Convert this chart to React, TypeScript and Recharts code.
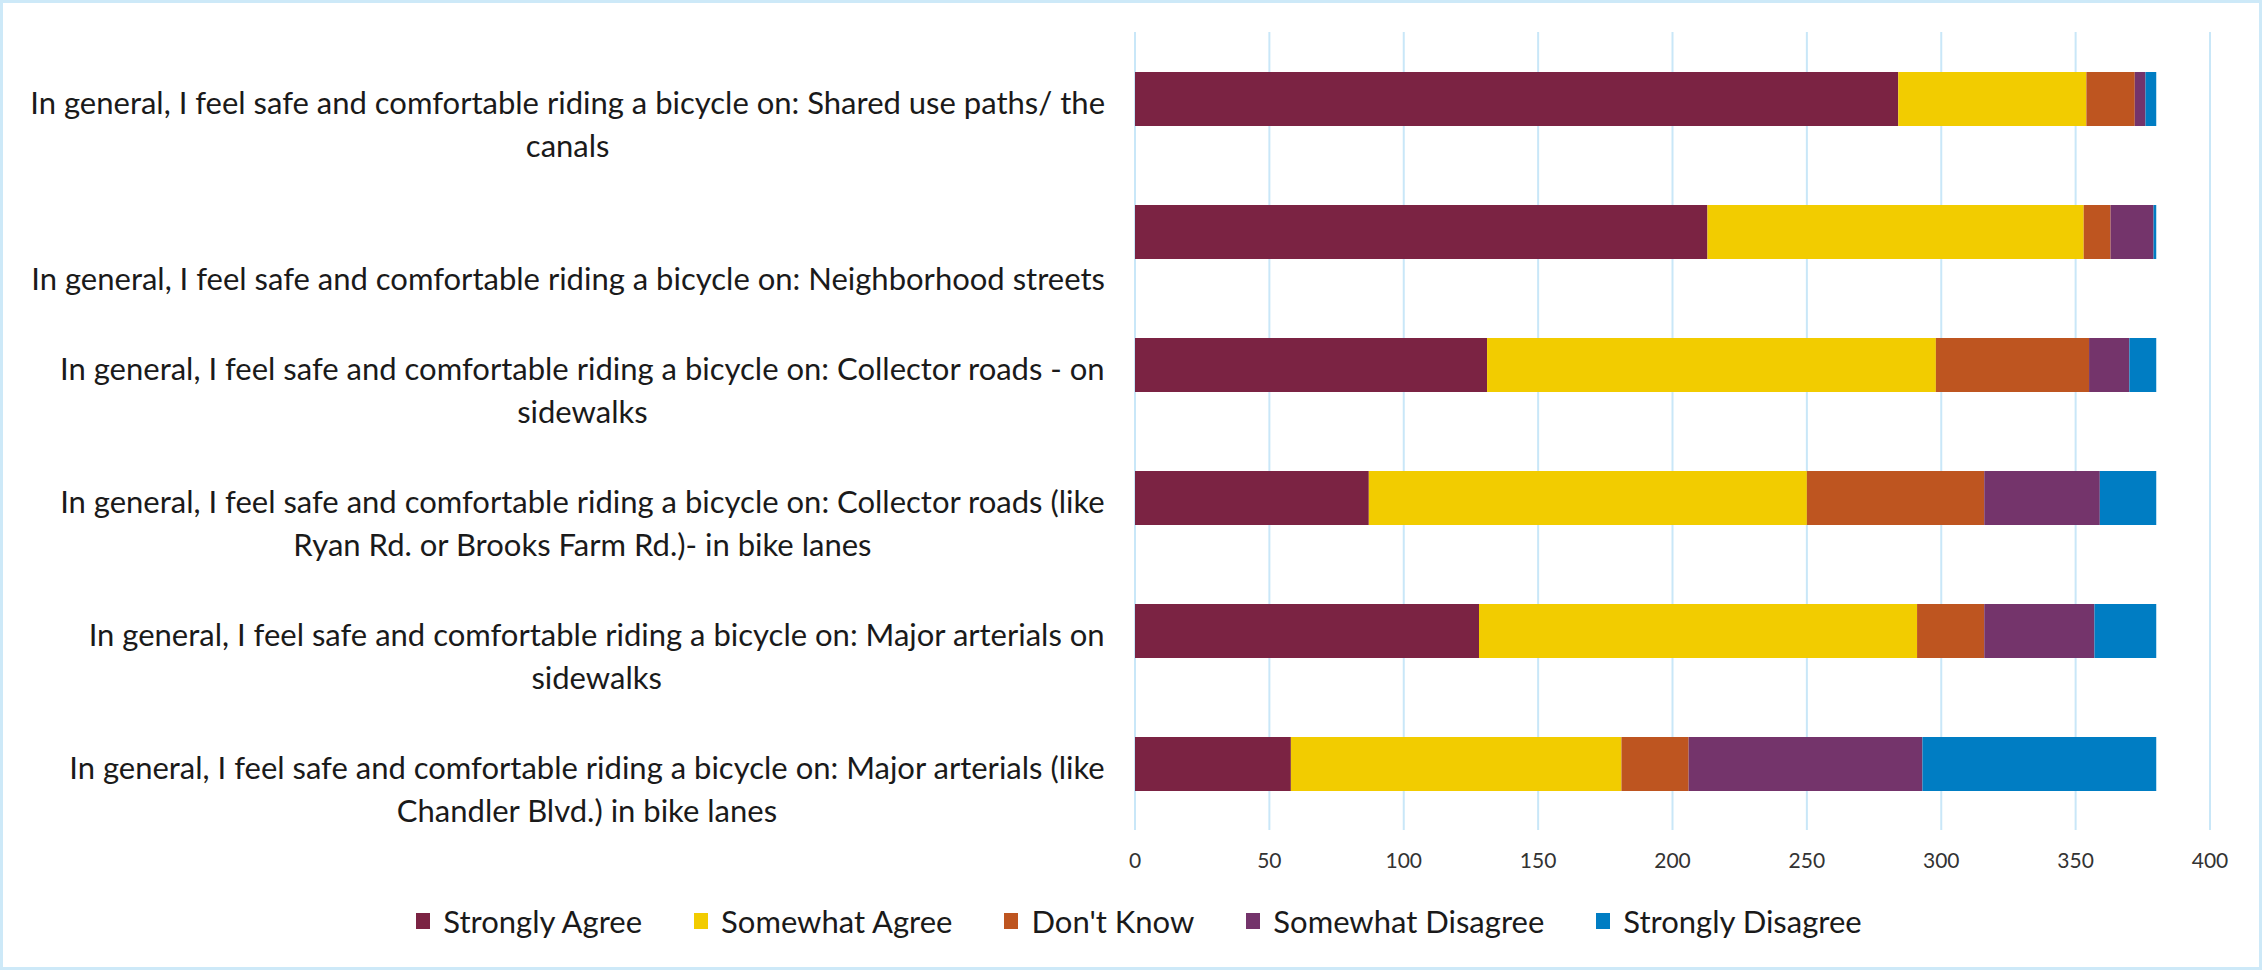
import React from 'react';
import { BarChart, Bar, XAxis, YAxis, CartesianGrid, Legend } from 'recharts';

const categories = [
  'In general, I feel safe and comfortable riding a bicycle on: Shared use paths/ the\ncanals',
  '\nIn general, I feel safe and comfortable riding a bicycle on: Neighborhood streets',
  'In general, I feel safe and comfortable riding a bicycle on: Collector roads - on\nsidewalks',
  'In general, I feel safe and comfortable riding a bicycle on: Collector roads (like\nRyan Rd. or Brooks Farm Rd.)- in bike lanes',
  'In general, I feel safe and comfortable riding a bicycle on: Major arterials on\nsidewalks',
  'In general, I feel safe and comfortable riding a bicycle on: Major arterials (like\nChandler Blvd.) in bike lanes',
];

const stronglyAgree = [284, 213, 131, 87, 128, 58];
const somewhatAgree = [70, 140, 167, 163, 163, 123];
const dontKnow = [18, 10, 57, 66, 25, 25];
const somewhatDisagree = [4, 16, 15, 43, 41, 87];
const stronglyDisagree = [4, 1, 10, 21, 23, 87];

const xTicks = [0, 50, 100, 150, 200, 250, 300, 350, 400];

const series = [
  { key: 'Strongly Agree', values: stronglyAgree, color: '#7B2343' },
  { key: 'Somewhat Agree', values: somewhatAgree, color: '#F2CC00' },
  { key: "Don't Know", values: dontKnow, color: '#BE5520' },
  { key: 'Somewhat Disagree', values: somewhatDisagree, color: '#74346B' },
  { key: 'Strongly Disagree', values: stronglyDisagree, color: '#007DC3' },
];

const data = categories.map((name, i) => {
  const row: Record<string, string | number> = { name };
  series.forEach((s) => {
    row[s.key] = s.values[i];
  });
  return row;
});

const FONT = 'Lato, "Noto Sans", sans-serif';
const LABEL_SIZE = 31;

let measureCtx: CanvasRenderingContext2D | null = null;
function textWidth(text: string) {
  if (!measureCtx) measureCtx = document.createElement('canvas').getContext('2d');
  if (!measureCtx) return text.length * LABEL_SIZE * 0.47;
  measureCtx.font = `${LABEL_SIZE}px ${FONT}`;
  return measureCtx.measureText(text).width;
}

// each label is right aligned as a block, lines centred within it
function CategoryTick(props: any) {
  const { y, payload } = props;
  const lines: string[] = String(payload.value).split('\n');
  const maxW = Math.max(...lines.map((l) => textWidth(l)));
  const right = 1105;
  const cx = right - maxW / 2;
  return (
    <g>
      {lines.map((line, i) => (
        <text
          key={i}
          x={cx}
          y={y + 3 + i * 43}
          textAnchor="middle"
          dominantBaseline="central"
          fontFamily={FONT}
          fontSize={LABEL_SIZE}
          fill="#1a1a1a"
        >
          {line}
        </text>
      ))}
    </g>
  );
}

function LegendRow() {
  return (
    <div
      style={{
        display: 'flex',
        justifyContent: 'center',
        alignItems: 'center',
        fontFamily: FONT,
        fontSize: LABEL_SIZE,
        color: '#1a1a1a',
        paddingLeft: 120,
      }}
    >
      {series.map((s) => (
        <div key={s.key} style={{ display: 'flex', alignItems: 'center', marginRight: 52 }}>
          <span style={{ width: 14, height: 16, background: s.color, marginRight: 13, display: 'inline-block' }} />
          <span>{s.key}</span>
        </div>
      ))}
    </div>
  );
}

export default function App() {
  return (
    <div style={{ position: 'absolute', left: 0, top: 0, width: 2262, height: 970, background: '#fff' }}>
      <BarChart
        width={2262}
        height={970}
        data={data}
        layout="vertical"
        margin={{ top: 32, right: 52, bottom: 0, left: 0 }}
      >
        <CartesianGrid horizontal={false} stroke="#c9e7f8" strokeWidth={2} />
        <XAxis
          type="number"
          domain={[0, 400]}
          ticks={xTicks}
          axisLine={false}
          tickLine={false}
          tickMargin={17}
          height={90}
          tick={{ fontSize: 21, fontFamily: FONT, fill: '#333' }}
        />
        <YAxis
          type="category"
          dataKey="name"
          width={1135}
          axisLine={false}
          tickLine={false}
          tick={<CategoryTick />}
          interval={0}
        />
        <Legend
          verticalAlign="bottom"
          height={50}
          content={<LegendRow />}
          wrapperStyle={{ bottom: 18 }}
        />
        {series.map((s) => (
          <Bar
            key={s.key}
            dataKey={s.key}
            stackId="a"
            fill={s.color}
            barSize={54}
            isAnimationActive={false}
          />
        ))}
      </BarChart>
      <div
        style={{
          position: 'absolute',
          inset: 0,
          border: '3px solid #cde9f8',
          pointerEvents: 'none',
        }}
      />
    </div>
  );
}
